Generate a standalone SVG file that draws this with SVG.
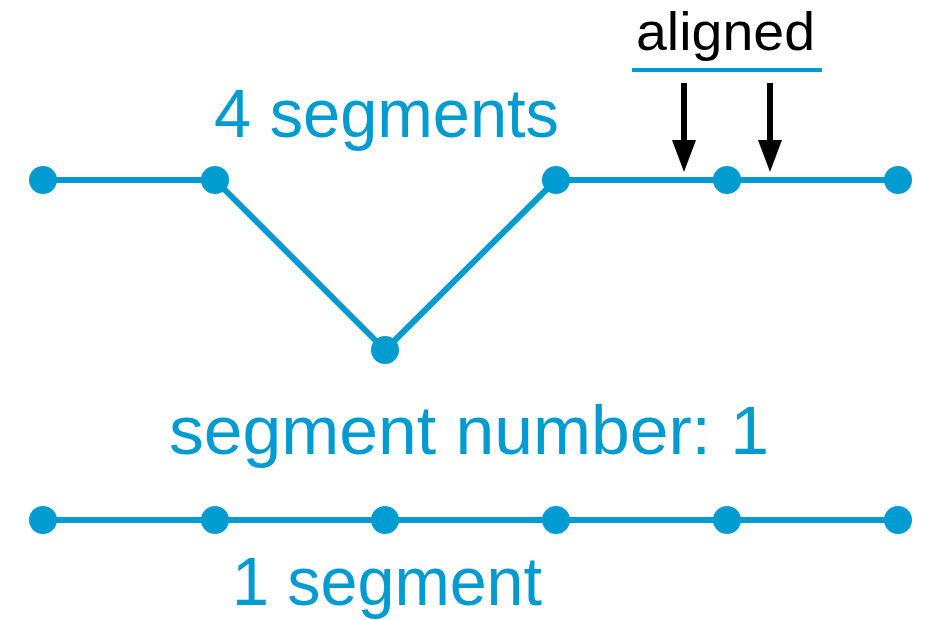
<svg xmlns="http://www.w3.org/2000/svg" width="925" height="620" viewBox="0 0 925 620">
<defs>
<style>
.ln{stroke:#009BD1;stroke-width:6;fill:none;stroke-linejoin:round}
.dot{fill:#009BD1}
.t{font-family:"Liberation Sans",Arial,sans-serif;fill:#009BD1}
.k{font-family:"Liberation Sans",Arial,sans-serif;fill:#000}
.ar{stroke:#000;stroke-width:6}
</style>
<marker id="ah" viewBox="0 0 24 32" refX="12" refY="32" markerUnits="userSpaceOnUse" markerWidth="24" markerHeight="32" orient="auto-start-reverse">
<path d="M0,0 L24,0 L12,32 Z" fill="#000"/>
</marker>
</defs>
<rect width="925" height="620" fill="#fff"/>
<g id="connectors">
<polyline class="ln" points="43,180 215,180 385,350 556,180 898,180"/>
<line class="ln" x1="43" y1="520" x2="898" y2="520"/>
<line x1="632" y1="70" x2="822" y2="70" stroke="#009BD1" stroke-width="4"/>
<line class="ar" x1="684" y1="83" x2="684" y2="142"/>
<path d="M672,140 L696,140 L684,172 Z" fill="#000"/>
<line class="ar" x1="770" y1="83" x2="770" y2="142"/>
<path d="M758,140 L782,140 L770,172 Z" fill="#000"/>
</g>
<g id="top-nodes">
<circle id="t1" class="dot" cx="43" cy="180" r="14"/>
<circle id="t2" class="dot" cx="215" cy="180" r="14"/>
<circle id="t3" class="dot" cx="385" cy="350" r="14"/>
<circle id="t4" class="dot" cx="556" cy="180" r="14"/>
<circle id="t5" class="dot" cx="727" cy="180" r="14"/>
<circle id="t6" class="dot" cx="898" cy="180" r="14"/>
</g>
<g id="bottom-nodes">
<circle id="b1" class="dot" cx="43" cy="520" r="14"/>
<circle id="b2" class="dot" cx="215" cy="520" r="14"/>
<circle id="b3" class="dot" cx="385" cy="520" r="14"/>
<circle id="b4" class="dot" cx="556" cy="520" r="14"/>
<circle id="b5" class="dot" cx="727" cy="520" r="14"/>
<circle id="b6" class="dot" cx="898" cy="520" r="14"/>
</g>
<g id="labels">
<text class="k" x="636" y="50" font-size="54" textLength="179" lengthAdjust="spacingAndGlyphs">aligned</text>
<text class="t" x="214" y="137" font-size="68" textLength="345" lengthAdjust="spacingAndGlyphs">4 segments</text>
<text class="t" x="169" y="454" font-size="68" textLength="600" lengthAdjust="spacingAndGlyphs">segment number: 1</text>
<text class="t" x="232" y="605" font-size="68" textLength="310" lengthAdjust="spacingAndGlyphs">1 segment</text>
</g>
</svg>
